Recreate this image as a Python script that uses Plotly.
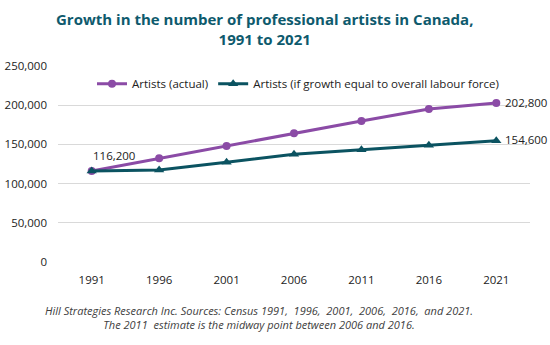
import plotly.graph_objects as go

years = [1991, 1996, 2001, 2006, 2011, 2016, 2021]
artists_actual = [116200, 132300, 147900, 164100, 179800, 195100, 202800]
artists_labour = [116200, 117300, 127200, 137400, 143300, 148900, 154600]
y_ticks = [0, 50000, 100000, 150000, 200000, 250000]

purple = "#8B4BA6"
teal = "#0B5361"
title_col = "#0E5A6D"
font_fam = "Open Sans, Noto Sans, sans-serif"

fig = go.Figure()
fig.add_trace(go.Scatter(
    x=years, y=artists_actual, name="Artists (actual)",
    mode="lines+markers", line=dict(color=purple, width=3),
    marker=dict(symbol="circle", size=8, color=purple),
))
fig.add_trace(go.Scatter(
    x=years, y=artists_labour, name="Artists (if growth equal to overall labour force)",
    mode="lines+markers", line=dict(color=teal, width=3),
    marker=dict(symbol="triangle-up", size=9, color=teal),
))

label_font = dict(size=11.5, color="#222")

# value labels at the ends of the series
value_labels = [
    dict(x=years[-1], y=artists_actual[-1], text=f"{artists_actual[-1]:,}",
         xanchor="left", yanchor="middle", xshift=7, yshift=1),
    dict(x=years[-1], y=artists_labour[-1], text=f"{artists_labour[-1]:,}",
         xanchor="left", yanchor="middle", xshift=7, yshift=1),
    dict(x=years[0], y=artists_actual[0], text=f"{artists_actual[0]:,}",
         xanchor="center", yanchor="bottom", xshift=22, yshift=6),
]
for v in value_labels:
    v.update(xref="x", yref="y", showarrow=False, font=label_font)

fig.update_layout(
    width=550, height=345,
    margin=dict(l=58, r=20, t=66, b=83),
    paper_bgcolor="white", plot_bgcolor="white",
    font=dict(family=font_fam, size=11.5, color="#222"),
    legend=dict(
        orientation="h", x=(298 - 58) / 472, xanchor="center", y=0.91, yanchor="middle",
        font=dict(size=11.5, color="#222"), bgcolor="rgba(0,0,0,0)",
        itemwidth=30,
    ),
    xaxis=dict(
        range=[1988.5, 2023.5], tickvals=years, ticktext=[str(y) for y in years],
        showgrid=False, zeroline=False, showline=False, ticks="",
        tickfont=dict(size=11.5, color="#222"), ticklabelstandoff=9,
        automargin=False,
    ),
    yaxis=dict(
        range=[0, 250000], tickvals=y_ticks,
        ticktext=[f"{v:,}" for v in y_ticks],
        showgrid=True, gridcolor="#D9D9D9", gridwidth=1,
        zeroline=False, showline=False, ticks="",
        tickfont=dict(size=11.5, color="#222"), ticklabelstandoff=10,
        automargin=False,
    ),
    annotations=value_labels + [
        dict(
            text="<b>Growth in the number of professional artists in Canada,<br>1991 to 2021</b>",
            xref="paper", yref="paper", x=(264 - 58) / 472, y=(262 - 7) / 196,
            xanchor="center", yanchor="top", showarrow=False,
            font=dict(size=15, color=title_col, family=font_fam),
        ),
        dict(
            text="<i>Hill Strategies Research Inc. Sources: Census 1991,  1996,  2001,  2006,  2016,  and 2021.<br>"
                 "The 2011  estimate is the midway point between 2006 and 2016.</i>",
            xref="paper", yref="paper", x=(259 - 58) / 472, y=-(301 - 262) / 196,
            xanchor="center", yanchor="top", showarrow=False,
            font=dict(size=11, color="#404040"),
        ),
    ],
)

fig.write_html("out.html")
